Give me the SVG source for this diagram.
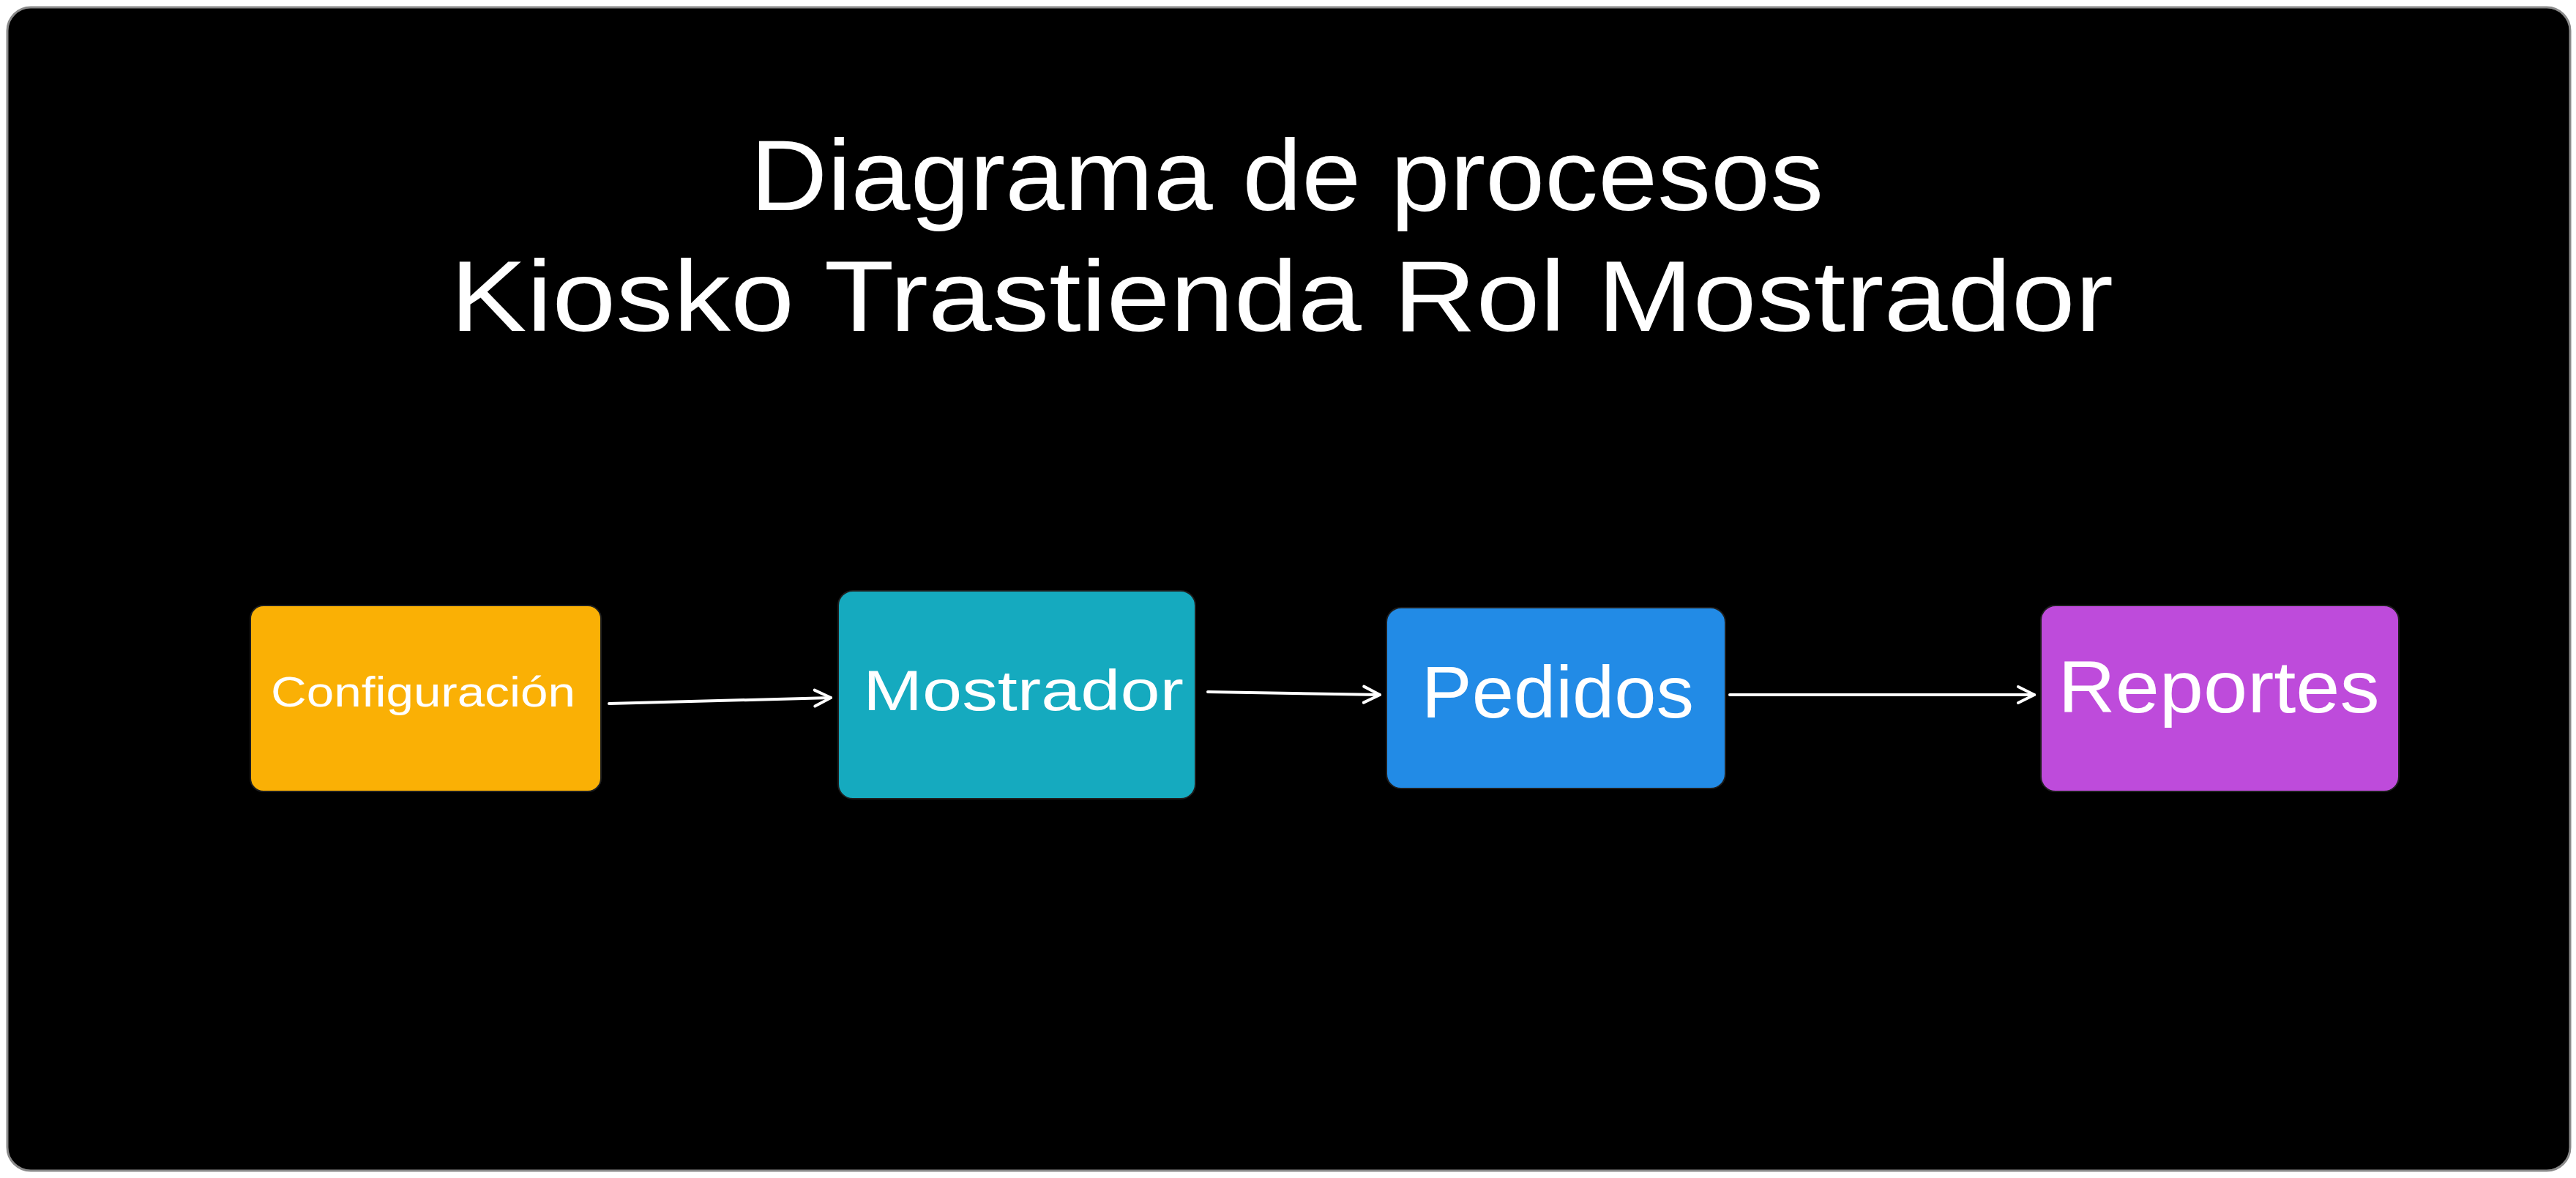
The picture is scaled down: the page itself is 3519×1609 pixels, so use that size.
<svg xmlns="http://www.w3.org/2000/svg" width="3519" height="1609" viewBox="0 0 3519 1609">
<style>
.t{font-family:"Liberation Sans",Arial,sans-serif;fill:#ffffff;text-anchor:middle}
.box{stroke:#1e1e1e;stroke-width:2}
.conn{stroke:#ffffff;stroke-width:4;fill:none;stroke-linecap:round}
</style>
<defs>
<marker id="ah" markerUnits="userSpaceOnUse" markerWidth="40" markerHeight="40" refX="30" refY="20" orient="auto" viewBox="0 0 40 40">
<path d="M8 9 L30 20 L8 31" fill="none" stroke="#ffffff" stroke-width="4" stroke-linecap="round" stroke-linejoin="round"/>
</marker>
</defs>
<rect x="0" y="0" width="3519" height="1609" fill="#ffffff"/>
<rect id="frame" x="10" y="10" width="3501" height="1589" rx="32" fill="#000000" stroke="#8a8a8a" stroke-width="3"/>
<g id="title">
<text class="t" x="1758" y="287" font-size="138" textLength="1466" lengthAdjust="spacingAndGlyphs">Diagrama de procesos</text>
<text class="t" x="1751" y="452" font-size="138" textLength="2272" lengthAdjust="spacingAndGlyphs">Kiosko Trastienda Rol Mostrador</text>
</g>
<g id="connectors">
<path class="conn" d="M832 961 L1135 953" marker-end="url(#ah)"/>
<path class="conn" d="M1650 945 L1885 949" marker-end="url(#ah)"/>
<path class="conn" d="M2363 949 L2779 949" marker-end="url(#ah)"/>
</g>
<g id="node-configuracion">
<rect class="box" x="342" y="827" width="479" height="254" rx="18" fill="#fab005"/>
<text class="t" x="578" y="965" font-size="58" textLength="416" lengthAdjust="spacingAndGlyphs">Configuración</text>
</g>
<g id="node-mostrador">
<rect class="box" x="1145" y="807" width="488" height="284" rx="20" fill="#15aabf"/>
<text class="t" x="1398" y="970" font-size="77" textLength="438" lengthAdjust="spacingAndGlyphs">Mostrador</text>
</g>
<g id="node-pedidos">
<rect class="box" x="1894" y="830" width="463" height="247" rx="20" fill="#228be6"/>
<text class="t" x="2128" y="980" font-size="100" textLength="372" lengthAdjust="spacingAndGlyphs">Pedidos</text>
</g>
<g id="node-reportes">
<rect class="box" x="2788" y="827" width="489" height="254" rx="20" fill="#be4bdb"/>
<text class="t" x="3031" y="973" font-size="100" textLength="439" lengthAdjust="spacingAndGlyphs">Reportes</text>
</g>
</svg>
